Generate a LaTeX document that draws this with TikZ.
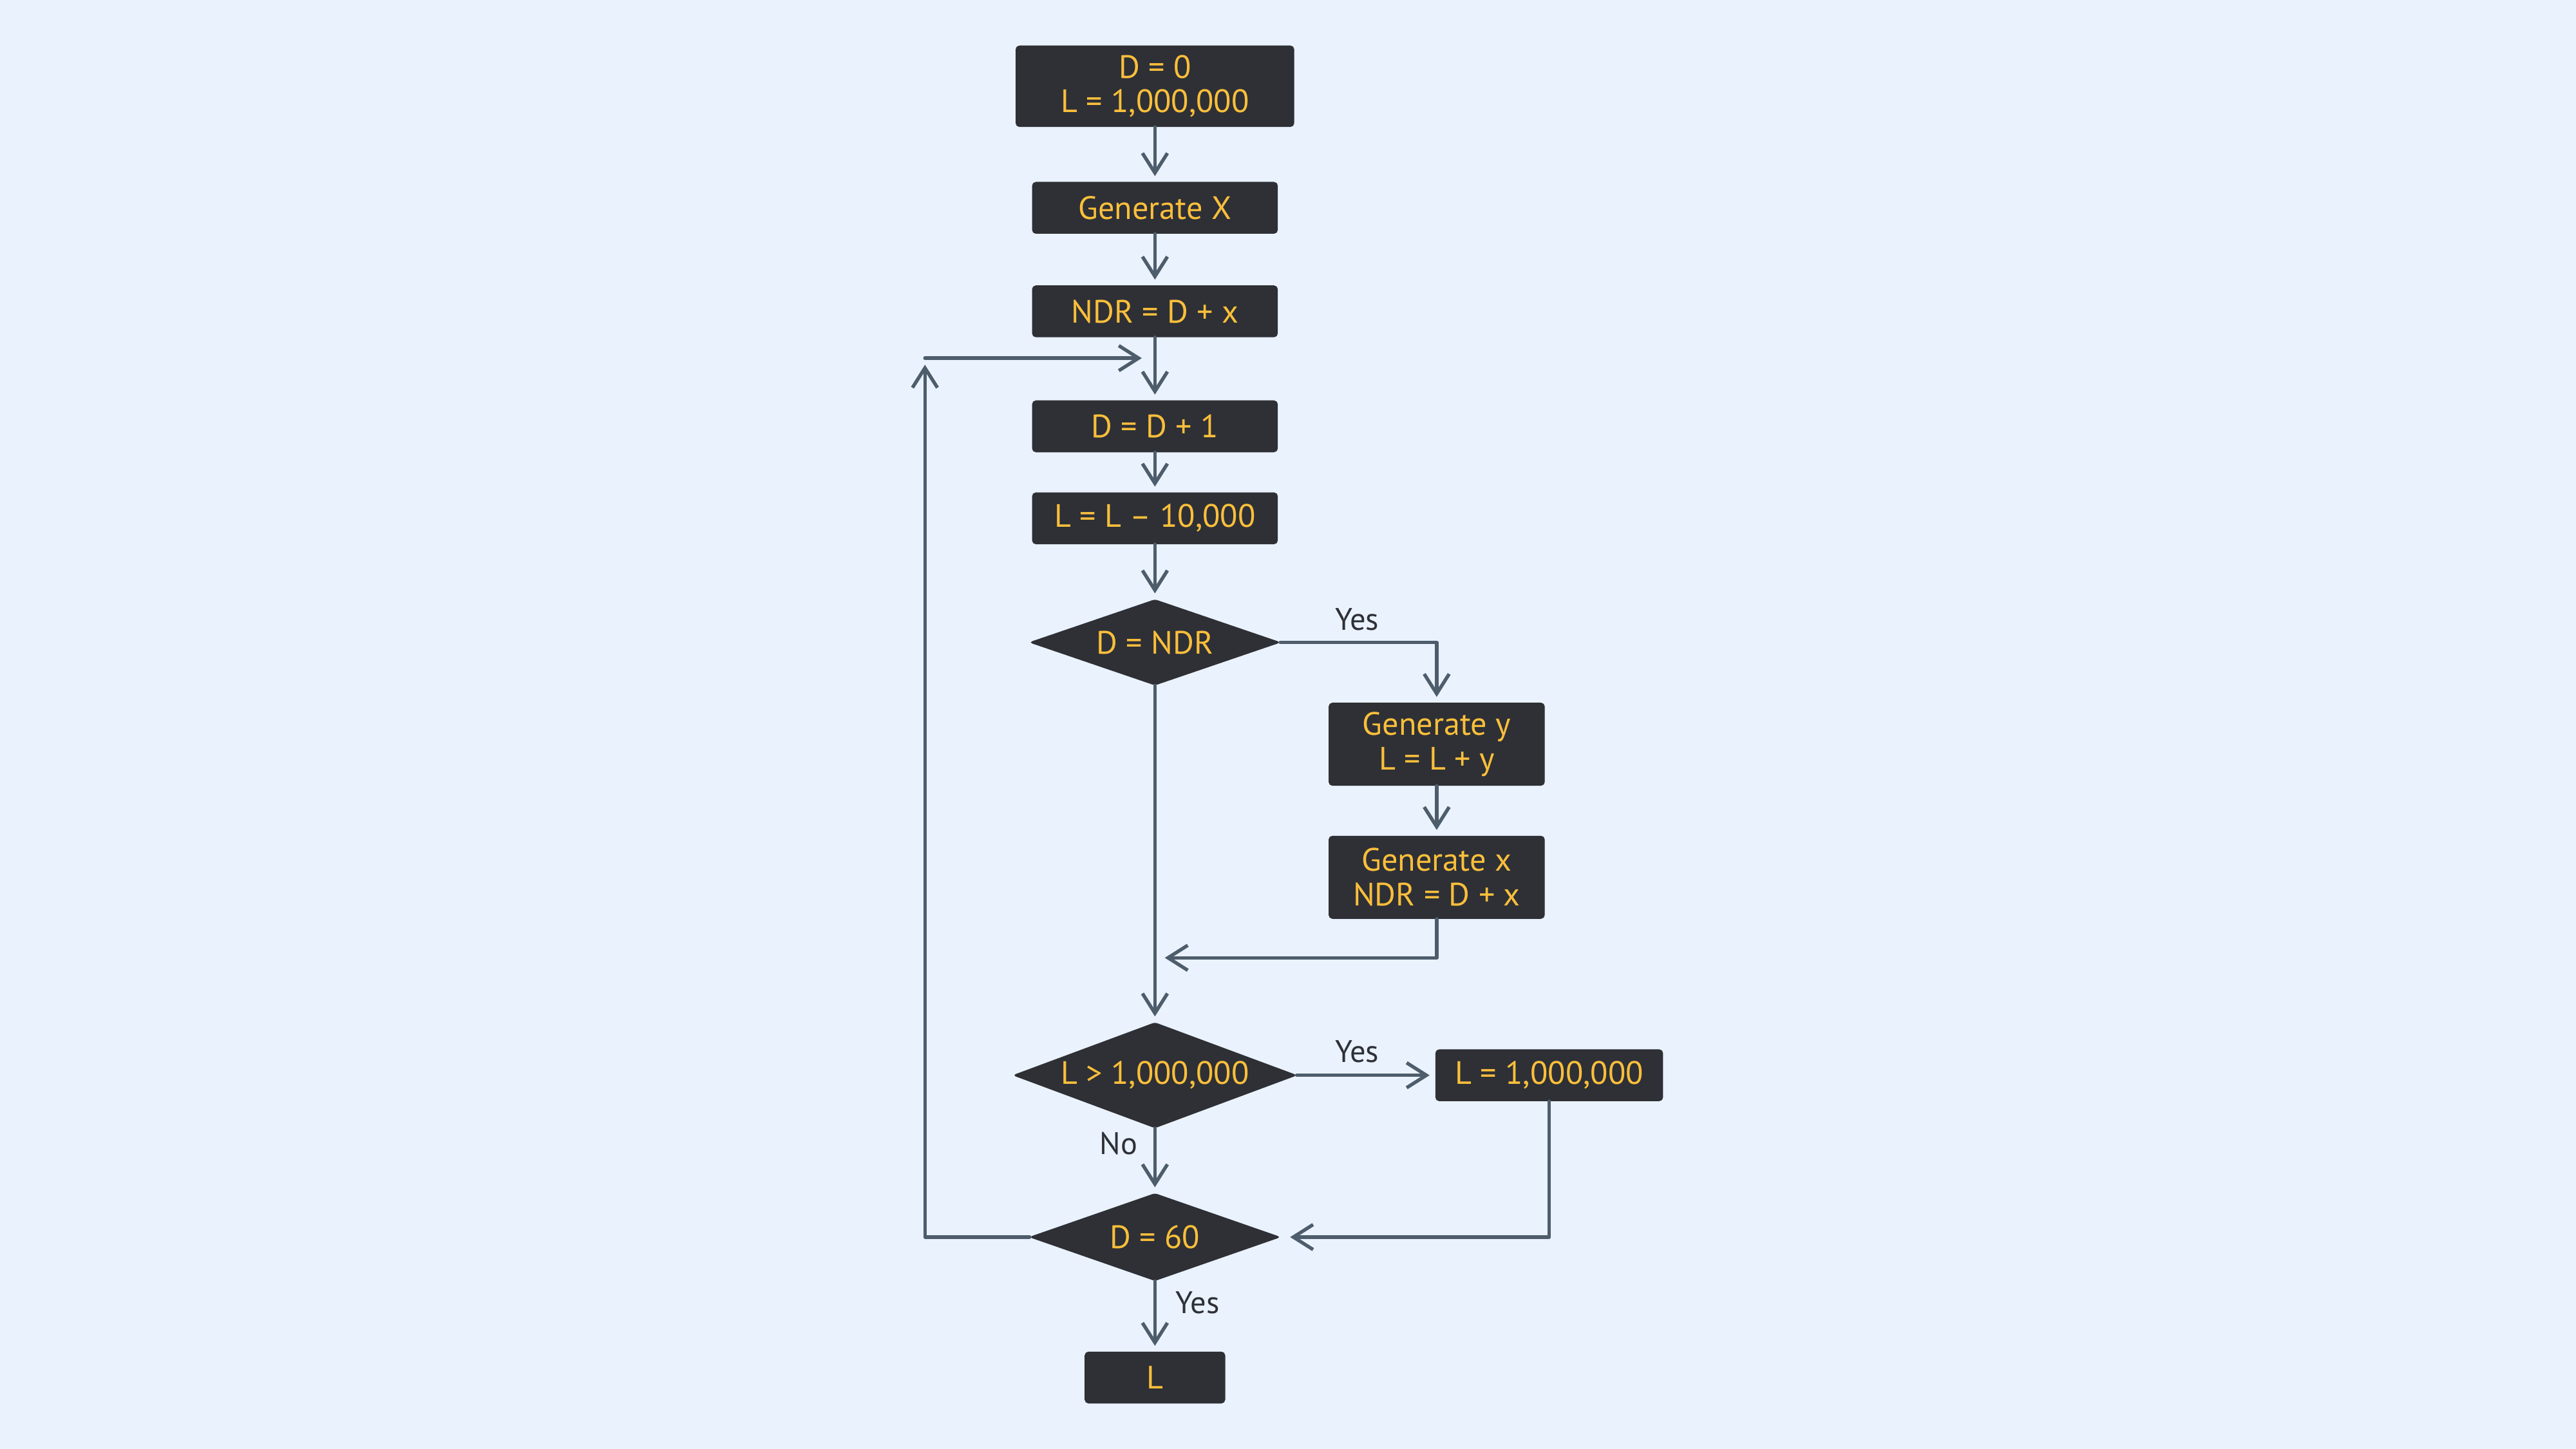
\documentclass[tikz,border=0pt]{standalone}
\usepackage{fontspec}
\setmainfont{PT Sans}
\usetikzlibrary{shapes.geometric,arrows.meta}
\definecolor{pagebg}{HTML}{EAF2FE}
\definecolor{boxdark}{HTML}{2E3035}
\definecolor{gold}{HTML}{FBBF3B}
\definecolor{wire}{HTML}{4E5D6C}
\begin{document}
\begin{tikzpicture}[x=0.025cm, y=-0.025cm,
  box/.style={draw=boxdark, fill=boxdark, rounded corners=1.5pt, text=gold, align=center,
    inner sep=0pt, font=\fontsize{14}{15}\selectfont},
  choice/.style={diamond, aspect=2.8, draw=boxdark, fill=boxdark, rounded corners=1pt, text=gold,
    inner sep=0pt, font=\fontsize{14}{15}\selectfont},
  link/.style={draw=wire, line width=1.5pt, line cap=round, line join=round,
    -{Straight Barb[length=3mm, width=3.8mm]}, shorten >=2.5pt},
  lbl/.style={text=boxdark, font=\fontsize{13.5}{15}\selectfont}]
\fill[pagebg] (0,0) rectangle (1568,882);
\useasboundingbox (0,0) rectangle (1568,882);

\node[box, minimum width=4.225cm, minimum height=1.225cm] (init) at (703,52.5) {D = 0\\L = 1,000,000};
\node[box, minimum width=3.725cm, minimum height=0.775cm] (genX) at (703,126.5) {Generate X};
\node[box, minimum width=3.725cm, minimum height=0.775cm] (ndr) at (703,189.5) {NDR = D + x};
\node[box, minimum width=3.725cm, minimum height=0.775cm] (dinc) at (703,259.5) {D = D + 1};
\node[box, minimum width=3.725cm, minimum height=0.775cm] (ldec) at (703,315.5) {L = L -- 10,000};
\node[choice, minimum width=3.8cm, minimum height=1.3cm] (isNdr) at (703,391) {D = NDR};
\node[box, minimum width=3.275cm, minimum height=1.25cm] (genY) at (874.5,453) {Generate y\\L = L + y};
\node[box, minimum width=3.275cm, minimum height=1.25cm] (genX2) at (874.5,534) {Generate x\\NDR = D + x};
\node[choice, minimum width=4.3cm, minimum height=1.6cm] (bigL) at (703,654.5) {L > 1,000,000};
\node[box, minimum width=3.45cm, minimum height=0.775cm] (cap) at (943,654.5) {L = 1,000,000};
\node[choice, minimum width=3.8cm, minimum height=1.325cm] (isSixty) at (703,753) {D = 60};
\node[box, minimum width=2.125cm, minimum height=0.775cm] (result) at (703,838.5) {L};

\coordinate (back) at (563,218);
\coordinate (rejoin) at (703,583);

\draw[link] (init) -- (genX);
\draw[link] (genX) -- (ndr);
\draw[link] (ndr) -- (dinc);
\draw[link] (dinc) -- (ldec);
\draw[link] (ldec) -- (isNdr);
\draw[link] (isNdr.east) -| (genY.north);
\node[lbl] (yesA) at (826,377) {Yes};
\draw[link] (genY) -- (genX2);
\draw[link, shorten >=0.15cm] (genX2.south) |- (rejoin);
\draw[link] (isNdr.south) -- (bigL.north);
\draw[link] (bigL.east) -- (cap.west);
\node[lbl] (yesB) at (826,640) {Yes};
\draw[link, shorten >=0.15cm] (cap.south) |- (isSixty.east);
\draw[link] (bigL.south) -- (isSixty.north);
\node[lbl] (no) at (681,696) {No};
\draw[link] (isSixty.south) -- (result.north);
\node[lbl] (yesC) at (729,793) {Yes};
\draw[link, shorten >=0.1cm] (isSixty.west) -| (back);
\draw[link, shorten >=0.2cm] (back) -- (back -| ndr.south);
\end{tikzpicture}
\end{document}
